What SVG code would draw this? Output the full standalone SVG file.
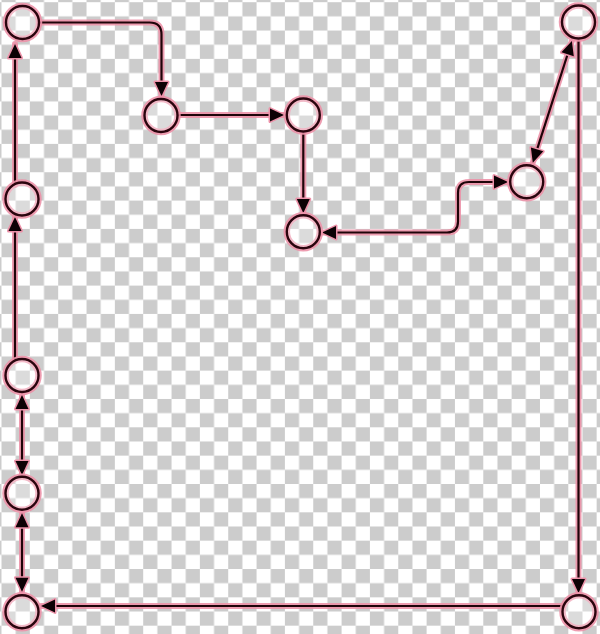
<svg xmlns="http://www.w3.org/2000/svg" width="600" height="634" viewBox="0 0 600 634">
<defs>
<pattern id="checker" patternUnits="userSpaceOnUse" x="1.5" y="2.2" width="28.34" height="28.34">
<rect width="28.34" height="28.34" fill="#ffffff"/>
<rect x="14.17" y="0" width="14.17" height="14.17" fill="#cccccc"/>
<rect x="0" y="14.17" width="14.17" height="14.17" fill="#cccccc"/>
</pattern>
<marker id="arrow" markerUnits="userSpaceOnUse" viewBox="-3 -3 20 19" refX="14" refY="6.5" markerWidth="20" markerHeight="19" orient="auto-start-reverse">
<path d="M0,0 L14,6.5 L0,13 z" fill="#0d0205" stroke="#ec92a9" stroke-width="3" stroke-linejoin="round" paint-order="stroke"/>
</marker>
<style>
.halo{fill:none;stroke:#ec92a9;stroke-width:6;stroke-linecap:round;stroke-linejoin:round;opacity:0.9}
.edge{fill:none;stroke:#1e0409;stroke-width:2.2}
.node .h{fill:none;stroke:#ec92a9;stroke-width:6.5;opacity:0.9}
.node .c{fill:#ffffff;fill-opacity:0.3;stroke:#2a050e;stroke-width:2.4}
</style>
</defs>
<rect width="600" height="634" fill="url(#checker)"/>
<g id="connectors">
<g id="halos">
<path class="halo" d="M39 22.5 H149.5 Q161.5 22.5 161.5 34.5 V96"/>
<path class="halo" d="M178 115 H284"/>
<path class="halo" d="M303.3 132 V213"/>
<path class="halo" d="M322 232.5 H447 Q458 232.5 458 221.5 V193 Q458 182 469 182 H508"/>
<path class="halo" d="M532.8 162.7 L571.9 41"/>
<path class="halo" d="M578.5 39 V593"/>
<path class="halo" d="M563 606 H41"/>
<path class="halo" d="M22 591.7 V513.3"/>
<path class="halo" d="M22 475 V395"/>
<path class="halo" d="M15 361 V217"/>
<path class="halo" d="M15 185 V44"/>
</g>
<path id="e1" class="edge" d="M39 22.5 H149.5 Q161.5 22.5 161.5 34.5 V96" marker-end="url(#arrow)"/>
<path id="e2" class="edge" d="M178 115 H284" marker-end="url(#arrow)"/>
<path id="e3" class="edge" d="M303.3 132 V213" marker-end="url(#arrow)"/>
<path id="e4" class="edge" d="M322 232.5 H447 Q458 232.5 458 221.5 V193 Q458 182 469 182 H508" marker-start="url(#arrow)" marker-end="url(#arrow)"/>
<path id="e5" class="edge" d="M532.8 162.7 L571.9 41" marker-start="url(#arrow)" marker-end="url(#arrow)"/>
<path id="e6" class="edge" d="M578.5 39 V593" marker-end="url(#arrow)"/>
<path id="e7" class="edge" d="M563 606 H41" marker-end="url(#arrow)"/>
<path id="e8" class="edge" d="M22 591.7 V513.3" marker-start="url(#arrow)" marker-end="url(#arrow)"/>
<path id="e9" class="edge" d="M22 475 V395" marker-start="url(#arrow)" marker-end="url(#arrow)"/>
<path id="e10" class="edge" d="M15 361 V217" marker-end="url(#arrow)"/>
<path id="e11" class="edge" d="M15 185 V44" marker-end="url(#arrow)"/>
</g>
<g id="n1" class="node"><circle class="h" cx="22.5" cy="22.5" r="16.5"/><circle class="c" cx="22.5" cy="22.5" r="16.5"/></g>
<g id="n2" class="node"><circle class="h" cx="161" cy="115.5" r="16.5"/><circle class="c" cx="161" cy="115.5" r="16.5"/></g>
<g id="n3" class="node"><circle class="h" cx="303.3" cy="115" r="16.5"/><circle class="c" cx="303.3" cy="115" r="16.5"/></g>
<g id="n4" class="node"><circle class="h" cx="303.3" cy="231.7" r="16.5"/><circle class="c" cx="303.3" cy="231.7" r="16.5"/></g>
<g id="n5" class="node"><circle class="h" cx="526.7" cy="181.7" r="16.5"/><circle class="c" cx="526.7" cy="181.7" r="16.5"/></g>
<g id="n6" class="node"><circle class="h" cx="578.5" cy="22" r="16.5"/><circle class="c" cx="578.5" cy="22" r="16.5"/></g>
<g id="n7" class="node"><circle class="h" cx="579" cy="611.7" r="16.5"/><circle class="c" cx="579" cy="611.7" r="16.5"/></g>
<g id="n8" class="node"><circle class="h" cx="22" cy="611.7" r="16.5"/><circle class="c" cx="22" cy="611.7" r="16.5"/></g>
<g id="n9" class="node"><circle class="h" cx="22" cy="493.3" r="16.5"/><circle class="c" cx="22" cy="493.3" r="16.5"/></g>
<g id="n10" class="node"><circle class="h" cx="22" cy="375.5" r="16.5"/><circle class="c" cx="22" cy="375.5" r="16.5"/></g>
<g id="n11" class="node"><circle class="h" cx="22" cy="199" r="16.5"/><circle class="c" cx="22" cy="199" r="16.5"/></g>
</svg>
